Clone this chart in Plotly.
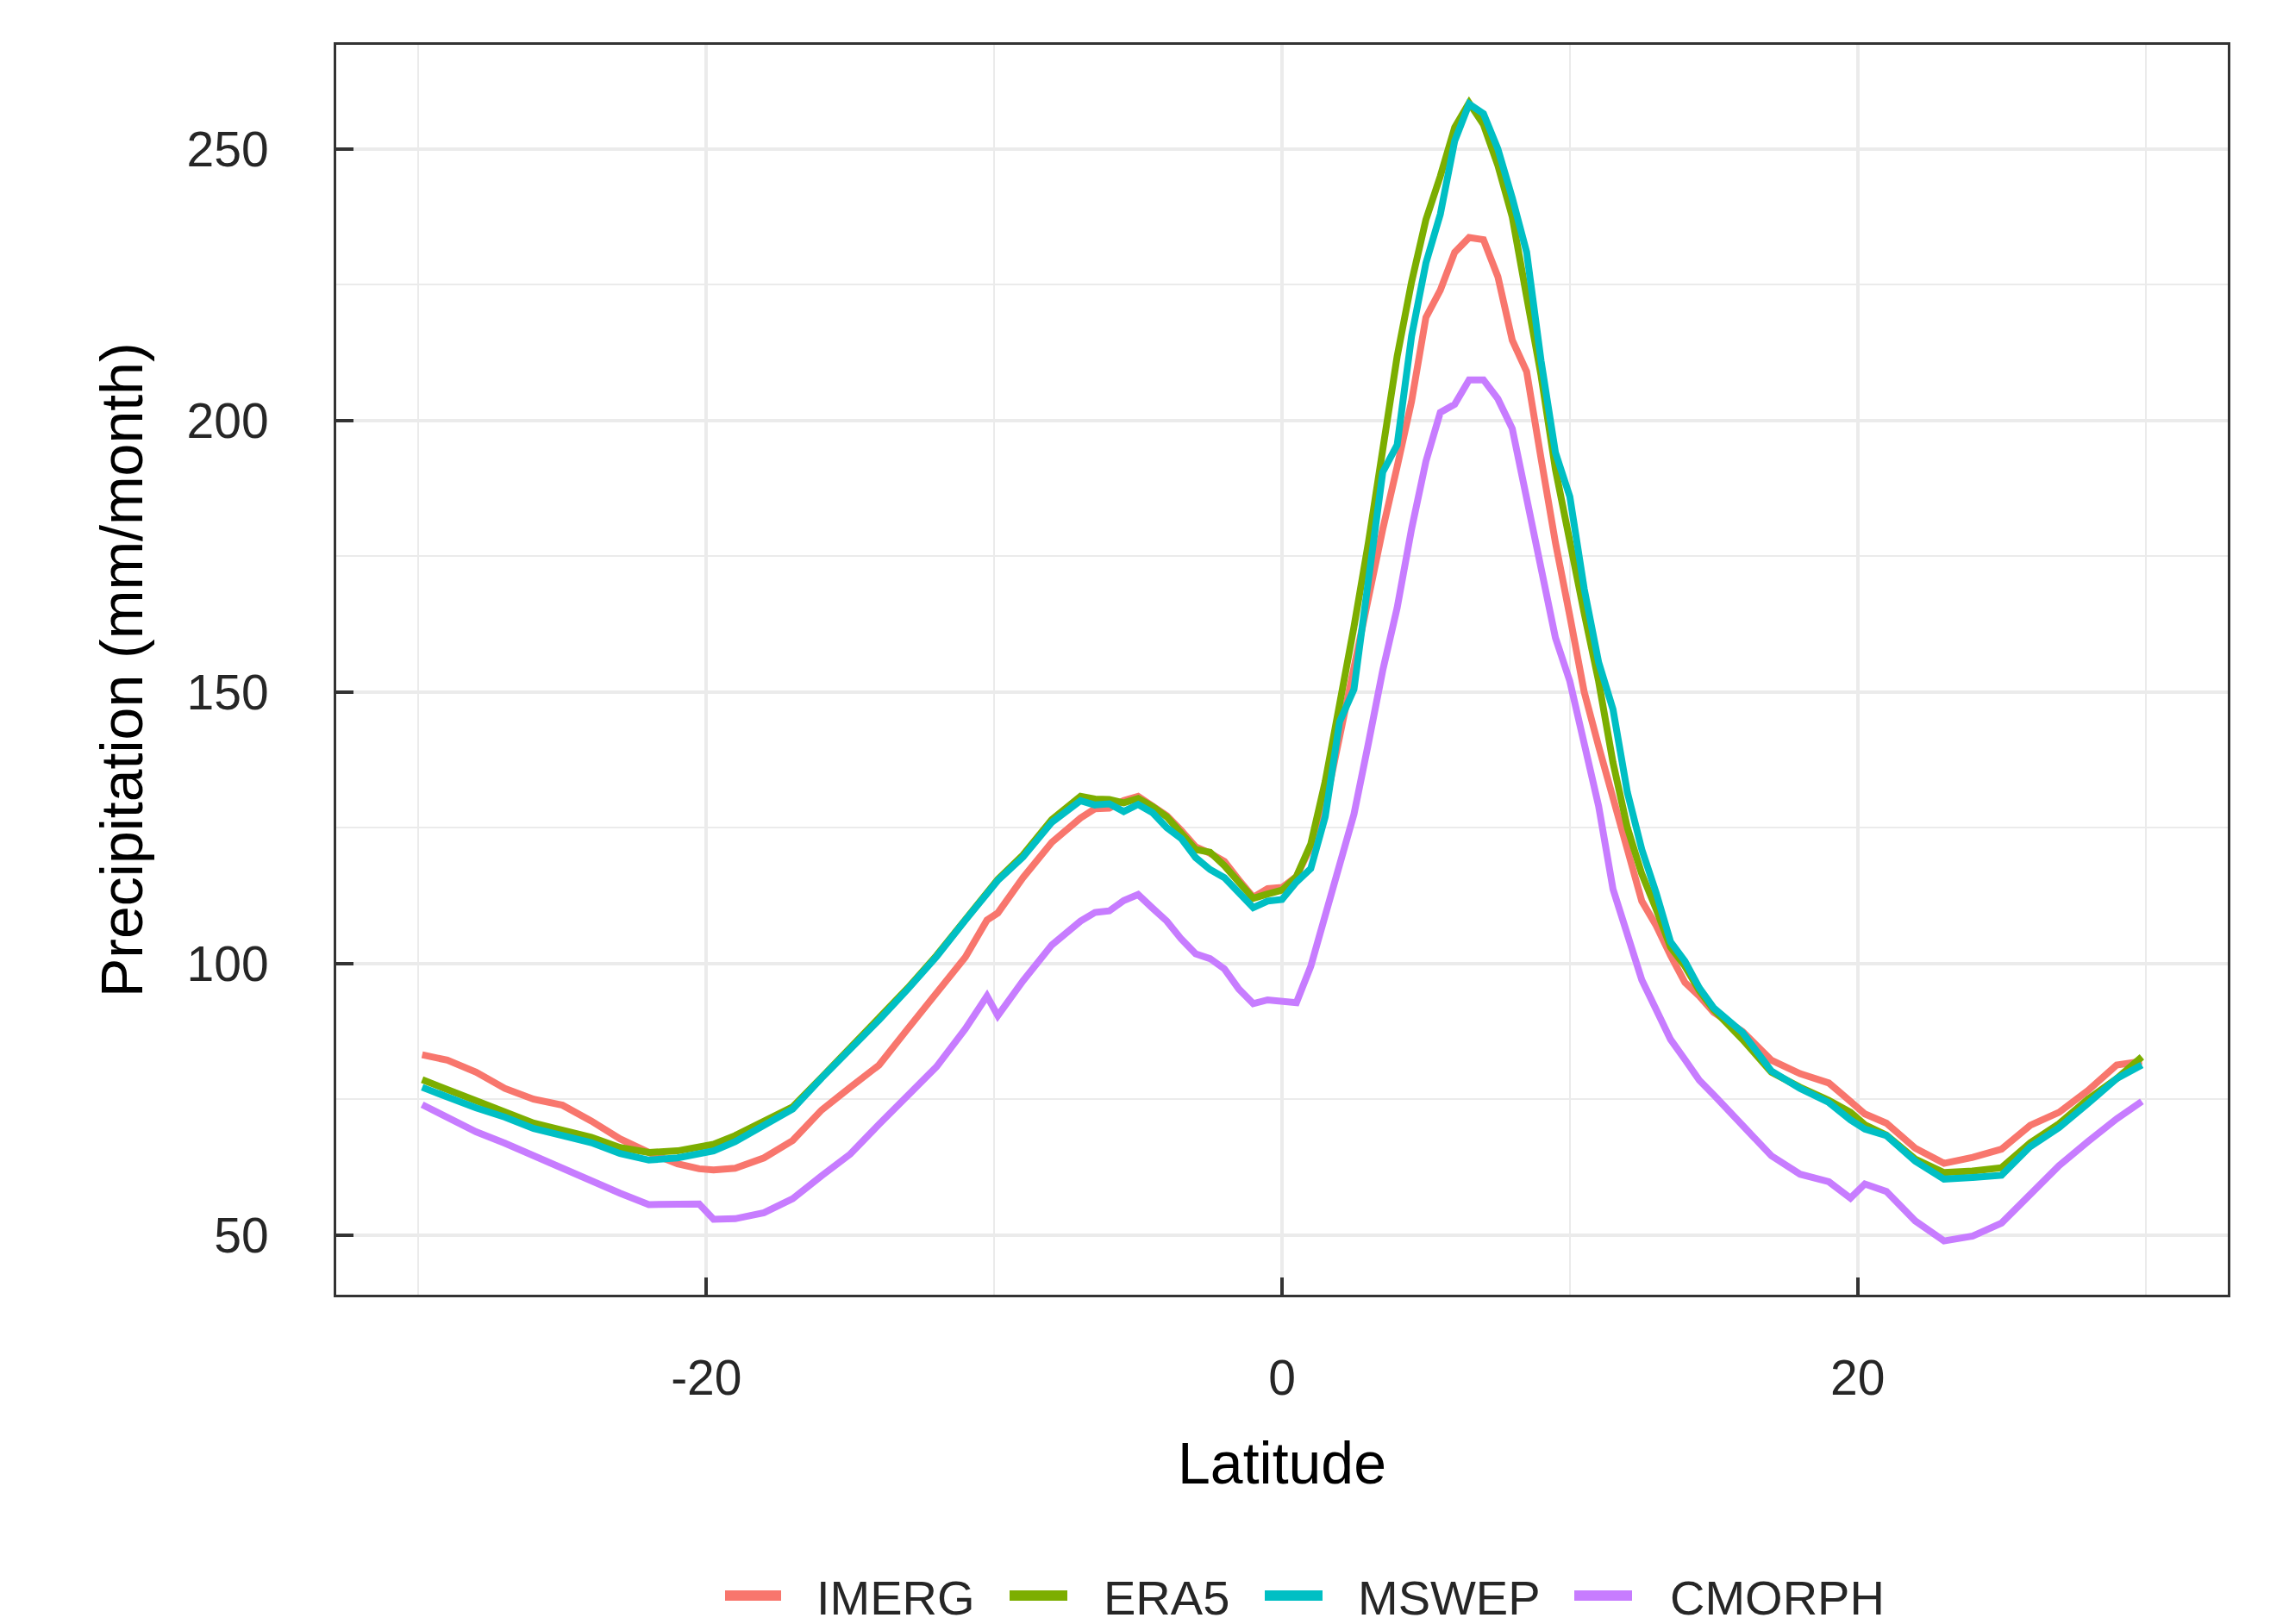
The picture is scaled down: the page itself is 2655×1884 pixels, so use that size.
import plotly.graph_objects as go

# ---------------- data ----------------
LAT = [-29.875, -29, -28, -27, -26, -25, -24, -23, -22, -21, -20.25, -19.75, -19, -18, -17,
       -16, -15, -14, -13, -12, -11, -10.25, -9.875, -9, -8, -7, -6.5, -6, -5.5, -5, -4.5,
       -4, -3.5, -3, -2.5, -2, -1.5, -1, -0.5, 0, 0.5, 1, 1.5, 2, 2.5, 3, 3.5, 4, 4.5, 5,
       5.5, 6, 6.5, 7, 7.5, 8, 8.5, 9, 9.5, 10, 10.5, 11, 11.5, 12, 12.5, 13, 13.5, 14,
       14.5, 15, 16, 17, 18, 19, 19.75, 20.25, 21, 22, 23, 24, 25, 26, 27, 28, 29, 29.875]

IMERG = [83.2, 82.2, 80.0, 77.0, 75.0, 73.9, 71.0, 67.7, 65.2, 63.1, 62.2, 62.0, 62.3, 64.2, 67.4,
         73.0, 77.2, 81.3, 88.0, 94.7, 101.2, 108.0, 109.3, 115.8, 122.3, 126.8, 128.5, 128.6, 130.0, 130.8, 129.0,
         127.2, 124.5, 121.5, 120.3, 118.8, 115.4, 112.2, 113.8, 114.0, 116.0, 121.5, 129.0, 142.0, 155.0, 168.0, 180.0, 191.5, 203.5, 219.0,
         224.0, 231.0, 233.7, 233.3, 226.5, 214.8, 209.0, 193.0, 177.5, 164.0, 150.0, 140.0, 130.0, 121.0, 111.5, 107.0, 101.5, 96.5,
         94.0, 91.0, 87.5, 82.2, 79.7, 78.0, 74.6, 72.3, 70.6, 66.0, 63.2, 64.3, 65.8, 70.2, 72.6, 76.6, 81.3, 82.0]

ERA5 = [78.6, 76.8, 74.7, 72.9, 70.6, 69.3, 68.0, 66.1, 65.2, 65.5, 66.1, 66.7, 68.3, 71.0, 73.6,
        79.0, 84.5, 89.9, 95.5, 101.5, 108.2, 113.1, 115.5, 120.0, 126.5, 130.8, 130.3, 130.2, 129.6, 130.4, 128.9,
        127.0, 124.0, 121.0, 120.5, 118.0, 115.0, 112.0, 112.8, 113.5, 116.0, 122.0, 133.5, 147.0, 162.0, 177.5, 195.5, 211.8, 225.5, 237.0,
        245.0, 254.0, 258.5, 254.5, 247.0, 237.5, 222.8, 208.3, 191.0, 177.0, 164.5, 152.0, 137.0, 125.0, 116.5, 110.0, 103.0, 99.5,
        95.0, 91.5, 86.0, 80.0, 77.2, 74.8, 72.6, 70.3, 68.4, 64.0, 61.5, 61.8, 62.4, 67.0, 70.5, 75.0, 78.8, 82.8]

MSWEP = [77.2, 75.3, 73.4, 71.7, 69.6, 68.3, 67.0, 65.0, 63.8, 64.2, 64.8, 65.5, 67.2, 70.3, 73.2,
         78.9, 84.2, 89.6, 95.3, 101.3, 108.0, 112.9, 115.3, 119.6, 126.0, 130.0, 129.2, 129.4, 128.0, 129.3, 127.8,
         125.0, 123.0, 119.5, 117.3, 115.8, 113.0, 110.3, 111.5, 111.8, 115.0, 117.5, 127.0, 144.5, 150.5, 171.5, 190.5, 195.5, 215.5, 229.0,
         238.0, 251.5, 258.3, 256.5, 250.0, 241.0, 231.0, 211.0, 194.1, 186.0, 169.0, 155.5, 146.8, 131.5, 121.0, 113.0, 104.0, 100.4,
         95.5, 91.8, 87.3, 80.2, 77.0, 74.4, 71.2, 69.5, 68.3, 63.6, 60.3, 60.6, 61.0, 66.3, 69.8, 74.2, 78.8, 81.3]

CMORPH = [74.0, 71.6, 69.0, 66.9, 64.6, 62.2, 59.8, 57.7, 55.6, 55.8, 55.7, 52.9, 53.0, 54.1, 56.7,
          60.9, 64.9, 70.4, 75.7, 81.0, 88.0, 94.0, 90.4, 96.8, 103.4, 107.8, 109.4, 109.7, 111.6, 112.7, 110.2,
          107.8, 104.5, 101.8, 100.9, 99.0, 95.3, 92.6, 93.3, 93.2, 92.8, 99.5, 108.5, 117.5, 127.5, 140.5, 154.0, 165.5, 180.0, 192.5,
          201.5, 203.0, 207.5, 207.5, 204.0, 198.5, 185.5, 172.0, 160.0, 152.0, 140.8, 129.0, 113.7, 105.0, 97.0, 91.5, 86.0, 82.3,
          78.5, 75.8, 70.4, 64.6, 61.2, 59.8, 56.8, 59.4, 58.0, 52.6, 48.9, 49.8, 52.2, 57.7, 62.8, 67.2, 71.4, 74.6]

SERIES_NAMES = ["IMERG", "ERA5", "MSWEP", "CMORPH"]
SERIES_VALUES = [IMERG, ERA5, MSWEP, CMORPH]
COLORS = ["#F8766D", "#7CAE00", "#00BFC4", "#C77CFF"]

X_TICKS = [-20, 0, 20]
X_MINOR = [-30, -10, 10, 30]
Y_TICKS = [50, 100, 150, 200, 250]
Y_MINOR = [75, 125, 175, 225]
X_TITLE = "Latitude"
Y_TITLE = "Precipitation (mm/month)"

for v in SERIES_VALUES:
    assert len(v) == len(LAT), (len(v), len(LAT))

# ---------------- layout geometry (page pixels) ----------------
OFF = 8                      # default body margin of the html page
PAGE_W, PAGE_H = 2655, 1884
W, H = PAGE_W - OFF, PAGE_H - OFF
PL, PR, PT, PB = 390, 2584, 52, 1502   # panel box, page coordinates
FONT = "Liberation Sans, Arial, Helvetica, sans-serif"
TICK_FONT = 57
TITLE_FONT = 68
LEG_FONT = 56

fig = go.Figure()
for name, vals, col in zip(SERIES_NAMES, SERIES_VALUES, COLORS):
    fig.add_trace(go.Scatter(x=LAT, y=vals, mode="lines", name=name,
                             line=dict(color=col, width=8), showlegend=False))

GRID = "#EBEBEB"
AX = "#333333"
fig.update_layout(
    width=W, height=H,
    margin=dict(l=PL - OFF, r=OFF + W - PR, t=PT - OFF, b=OFF + H - PB, pad=0),
    paper_bgcolor="white", plot_bgcolor="white",
    font=dict(family=FONT, color="#262626"),
)
fig.update_xaxes(
    range=[-32.86, 32.86], tickvals=X_TICKS, ticktext=[str(t) for t in X_TICKS],
    showgrid=True, gridcolor=GRID, gridwidth=4, zeroline=False,
    minor=dict(tickvals=X_MINOR, showgrid=True, gridcolor=GRID, gridwidth=2, ticks=""),
    showline=True, mirror=True, linecolor=AX, linewidth=3,
    ticks="inside", ticklen=20, tickwidth=4, tickcolor=AX,
    tickfont=dict(size=TICK_FONT, color="#262626", family=FONT),
    ticklabelstandoff=45,
)
fig.update_yaxes(
    range=[39.0, 269.2], tickvals=Y_TICKS, ticktext=[str(t) for t in Y_TICKS],
    showgrid=True, gridcolor=GRID, gridwidth=4, zeroline=False,
    minor=dict(tickvals=Y_MINOR, showgrid=True, gridcolor=GRID, gridwidth=2, ticks=""),
    showline=True, mirror=True, linecolor=AX, linewidth=3,
    ticks="inside", ticklen=20, tickwidth=4, tickcolor=AX,
    tickfont=dict(size=TICK_FONT, color="#262626", family=FONT),
    ticklabelstandoff=64,
)

def px_x(p):
    return (p - PL) / (PR - PL)

def px_y(p):
    return (PB - p) / (PB - PT)

# axis titles
fig.add_annotation(text=X_TITLE, xref="paper", yref="paper", x=0.5, y=px_y(1697),
                   xanchor="center", yanchor="middle", showarrow=False,
                   font=dict(size=TITLE_FONT, color="black", family=FONT))
fig.add_annotation(text=Y_TITLE, xref="paper", yref="paper", x=px_x(141), y=0.5,
                   xanchor="center", yanchor="middle", textangle=-90, showarrow=False,
                   font=dict(size=TITLE_FONT, color="black", family=FONT))

# legend (bottom, horizontal)
LEG_Y = 1851
LEG_KEYS = [(841, 906), (1171, 1238), (1467, 1534), (1826, 1893)]
LEG_TEXT_X = [945, 1278, 1573, 1935]
for name, col, (k0, k1), tx in zip(SERIES_NAMES, COLORS, LEG_KEYS, LEG_TEXT_X):
    fig.add_shape(type="line", xref="paper", yref="paper",
                  x0=px_x(k0), x1=px_x(k1), y0=px_y(LEG_Y), y1=px_y(LEG_Y),
                  line=dict(color=col, width=12))
    fig.add_annotation(text=name, xref="paper", yref="paper", x=px_x(tx), y=px_y(LEG_Y + 2),
                       xanchor="left", yanchor="middle", showarrow=False,
                       font=dict(size=LEG_FONT, color="#262626", family=FONT))

fig.write_html("out.html")
